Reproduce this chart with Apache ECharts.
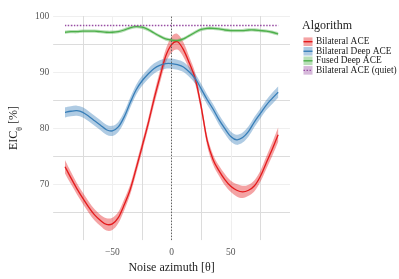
<!DOCTYPE html>
<html><head><meta charset="utf-8">
<script src="https://cdn.jsdelivr.net/npm/echarts@6/dist/echarts.min.js"></script>
<style>html,body{margin:0;padding:0;background:#fff}#c{width:399px;height:279px}</style>
</head><body><div id="c"></div>
<script>
// ---- data ----
const azimuth = [-90,-85,-80,-75,-70,-65,-60,-55,-50,-45,-40,-35,-30,-25,-20,-15,-10,-5,0,5,10,15,20,25,30,35,40,45,50,55,60,65,70,75,80,85,90];
const bilateralACE   = [73.1,71.1,69.2,67.5,65.9,64.5,63.5,62.8,62.9,64.0,66.3,69.0,72.7,76.6,80.6,85.0,89.0,92.8,94.9,95.4,94.0,91.6,88.8,83.8,77.8,74.4,72.4,70.8,69.6,68.9,68.6,68.9,69.7,71.4,73.8,76.2,78.8];
const bilateralACEse = [1.2,1.1,1.0,1.0,1.0,1.0,1.0,1.1,1.1,1.0,1.0,0.9,0.9,0.9,0.9,1.0,1.1,1.2,1.4,1.4,1.3,1.1,1.0,0.9,0.9,0.9,0.9,1.0,1.0,1.1,1.1,1.0,1.0,1.0,1.1,1.2,1.3];
const bilateralDeep   = [82.8,83.0,83.1,82.8,82.1,81.3,80.5,79.7,79.5,80.2,82.0,84.5,86.8,88.4,89.6,90.6,91.2,91.5,91.5,91.3,90.9,90.0,88.8,87.0,85.1,83.4,81.5,79.9,78.5,77.9,78.3,79.4,81.1,82.6,84.1,85.3,86.4];
const bilateralDeepse = [0.9,0.9,0.9,0.9,0.9,0.9,0.9,0.9,0.9,0.9,0.9,0.9,0.9,0.9,0.9,0.9,0.9,0.9,0.9,0.9,0.9,0.9,0.9,0.9,0.9,0.9,0.9,0.9,0.9,0.9,0.9,0.9,0.9,0.9,0.9,1.0,1.0];
const fusedDeep   = [97.1,97.2,97.2,97.3,97.3,97.3,97.2,97.1,97.1,97.2,97.5,97.9,98.1,98.0,97.6,97.0,96.4,95.9,95.7,95.6,95.9,96.5,97.1,97.6,97.8,97.8,97.7,97.5,97.4,97.4,97.4,97.5,97.5,97.4,97.3,97.1,96.8];
const fusedDeepse = [0.3,0.3,0.3,0.3,0.3,0.3,0.3,0.3,0.3,0.3,0.3,0.3,0.3,0.3,0.3,0.3,0.3,0.3,0.3,0.3,0.3,0.3,0.3,0.3,0.3,0.3,0.3,0.3,0.3,0.3,0.3,0.3,0.3,0.3,0.3,0.3,0.3];
const quietAzimuth = [-90, 90];
const bilateralQuiet = [98.3, 98.3];
const xTicks = [-50, 0, 50];
const yTicks = [70, 80, 90, 100];
const names = ['Bilateral ACE', 'Bilateral Deep ACE', 'Fused Deep ACE', 'Bilateral ACE (quiet)'];
const lineColors = ['#e41a1c', '#377eb8', '#4daf4a', '#984ea3'];
const bandColors = ['rgba(228,26,28,0.40)', 'rgba(55,126,184,0.40)', 'rgba(77,175,74,0.40)', 'rgba(152,78,163,0.40)'];

const FONT = 'Liberation Serif';

// Catmull-Rom smoothing of already-projected pixel points -> SVG path segment
function curvePath(p, moveFirst) {
  let d = (moveFirst ? 'M' : 'L') + p[0][0] + ' ' + p[0][1];
  for (let i = 0; i < p.length - 1; i++) {
    const p0 = p[Math.max(i - 1, 0)], p1 = p[i], p2 = p[i + 1], p3 = p[Math.min(i + 2, p.length - 1)];
    const c1x = p1[0] + (p2[0] - p0[0]) / 6, c1y = p1[1] + (p2[1] - p0[1]) / 6;
    const c2x = p2[0] - (p3[0] - p1[0]) / 6, c2y = p2[1] - (p3[1] - p1[1]) / 6;
    d += 'C' + c1x + ' ' + c1y + ' ' + c2x + ' ' + c2y + ' ' + p2[0] + ' ' + p2[1];
  }
  return d;
}

function bandSeries(center, se, idx) {
  const rows = azimuth.map((x, i) => [x, center[i] - se[i], center[i] + se[i]]);
  return {
    type: 'custom', name: names[idx] + ' band', silent: true, z: 1,
    encode: { x: 0, y: [1, 2] },
    data: rows,
    renderItem: (params, api) => {
      if (params.dataIndex !== 0) return null;
      const up = rows.map(r => api.coord([r[0], r[2]]));
      const lo = rows.map(r => api.coord([r[0], r[1]])).reverse();
      const d = curvePath(up, true) + curvePath(lo, false) + 'Z';
      return { type: 'path', shape: { pathData: d }, style: { fill: bandColors[idx], stroke: null } };
    }
  };
}
function lineSeries(xs, ys, idx, dash) {
  const rows = xs.map((x, i) => [x, ys[i]]);
  return {
    type: 'custom', name: names[idx], silent: true, z: 3 + idx,
    encode: { x: 0, y: 1 },
    data: rows,
    renderItem: (params, api) => {
      if (params.dataIndex !== 0) return null;
      const p = rows.map(r => api.coord(r));
      return { type: 'path', shape: { pathData: curvePath(p, true) },
        style: { fill: null, stroke: lineColors[idx], lineWidth: dash ? 1.4 : 1.3, lineDash: dash || null } };
    }
  };
}

const series = [
  bandSeries(bilateralACE, bilateralACEse, 0),
  bandSeries(bilateralDeep, bilateralDeepse, 1),
  bandSeries(fusedDeep, fusedDeepse, 2),
  {
    type: 'line', data: [], silent: true,
    markLine: { silent: true, symbol: 'none', label: { show: false }, animation: false,
      lineStyle: { color: '#555', type: [1.5, 1.5], width: 0.9 },
      data: [{ xAxis: 0 }] }, z: 2
  },
  lineSeries(azimuth, bilateralACE, 0),
  lineSeries(azimuth, bilateralDeep, 1),
  lineSeries(azimuth, fusedDeep, 2),
  lineSeries(quietAzimuth, bilateralQuiet, 3, [1.5, 1.5])
];

// legend drawn as graphic (key = ribbon swatch + line)
const legendGraphic = [{ type: 'text', left: 302, top: 20, style: { text: 'Algorithm', font: '12px ' + FONT, fill: '#222' } }];
names.forEach((n, i) => {
  const cy = 41.7 + i * 9.55;
  legendGraphic.push({ type: 'rect', shape: { x: 303.5, y: cy - 4.3, width: 9, height: 8.6 }, style: { fill: bandColors[i] } });
  legendGraphic.push({ type: 'line', shape: { x1: 303.5, y1: cy, x2: 312.5, y2: cy },
    style: { stroke: lineColors[i], lineWidth: 1.4, lineDash: i === 3 ? [1.5, 1.5] : null } });
  legendGraphic.push({ type: 'text', x: 316, y: cy, style: { text: n, font: '9.4px ' + FONT, fill: '#222', verticalAlign: 'middle' } });
});

const chart = echarts.init(document.getElementById('c'), null, { renderer: 'canvas' });
chart.setOption({
  animation: false,
  backgroundColor: '#fff',
  grid: { left: 40, right: 109, top: 16, bottom: 35, containLabel: false },
  xAxis: {
    type: 'value', min: -100, max: 100, interval: 25,
    name: 'Noise azimuth [θ]', nameLocation: 'middle', nameGap: 20,
    nameTextStyle: { fontFamily: FONT, fontSize: 12, color: '#222' },
    axisLine: { show: false }, axisTick: { show: false },
    axisLabel: { fontFamily: FONT, fontSize: 9.5, color: '#555', margin: 7,
      formatter: v => xTicks.includes(v) ? String(v).replace('-', '\u2212') : '' },
    splitLine: { show: true, showMinLine: false, showMaxLine: false,
      lineStyle: { color: ['#dcdcdc', '#efefef'], width: 1 } }
  },
  yAxis: {
    type: 'value', min: 60, max: 100, interval: 5,
    name: '{m|EIC}{s|θ}{m| [%]}', nameLocation: 'middle', nameGap: 26,
    nameTextStyle: { fontFamily: FONT, fontSize: 12, color: '#222',
      rich: { m: { fontFamily: FONT, fontSize: 12, color: '#222' },
              s: { fontFamily: FONT, fontSize: 7.5, color: '#222', verticalAlign: 'bottom', padding: [0, 0, -4, 0] } } },
    axisLine: { show: false }, axisTick: { show: false },
    axisLabel: { fontFamily: FONT, fontSize: 9.5, color: '#555', margin: 4,
      formatter: v => yTicks.includes(v) ? String(v) : '' },
    splitLine: { show: true, showMinLine: false,
      lineStyle: { color: ['#dcdcdc', '#efefef'], width: 1 } }
  },
  graphic: legendGraphic,
  series: series
});
</script></body></html>
